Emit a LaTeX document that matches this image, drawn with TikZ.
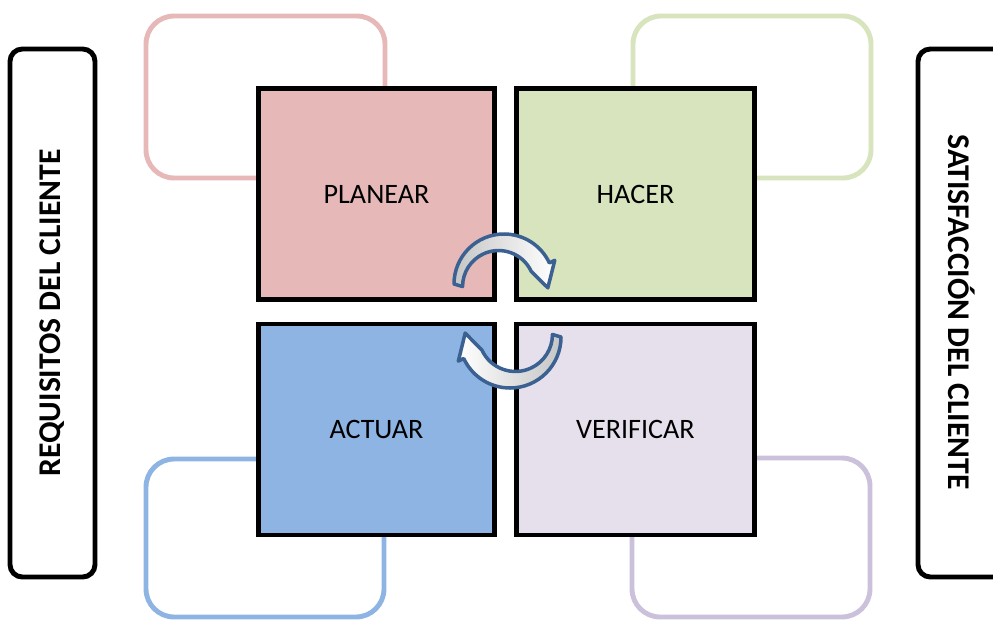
\documentclass[tikz,border=0pt]{standalone}
\usepackage{fontspec}
\setmainfont{Carlito}
\usepackage{tikz}

\definecolor{planColor}{HTML}{E6B9B8}
\definecolor{hacerColor}{HTML}{D7E4BD}
\definecolor{actuarColor}{HTML}{8EB4E3}
\definecolor{verifColor}{HTML}{E6E0EC}
\definecolor{verifLine}{HTML}{CCC1DA}
\definecolor{arrowLine}{HTML}{3B6192}

\begin{document}
\begin{tikzpicture}[
  x=0.02cm, y=-0.02cm,
  phase/.style={draw=black, line width=2.8pt, inner sep=0pt, minimum height=4.22cm,
    font=\fontsize{16}{19}\selectfont},
  ghost/.style={rounded corners=16pt, line width=2.8pt},
  sidebox/.style={draw=black, rounded corners=7pt, line width=2.8pt, inner sep=0pt},
  sidetext/.style={font=\fontsize{18}{21}\selectfont\bfseries},
  cycle/.style={draw=arrowLine, line width=2pt, line join=round}]

\useasboundingbox (0,0) rectangle (993,619);

% Light frames behind the squares
\draw[ghost, draw=planColor] (146,16) rectangle (385,178);
\draw[ghost, draw=hacerColor] (633,16) rectangle (871,178);
\draw[ghost, draw=actuarColor] (146,459) rectangle (384,617);
\draw[ghost, draw=verifLine] (632,458) rectangle (870,617);

% The four phases
\node[phase, fill=planColor, minimum width=4.72cm] (planear) at (376.5,194) {PLANEAR};
\node[phase, fill=hacerColor, minimum width=4.76cm] (hacer) at (635.5,194) {HACER};
\node[phase, fill=actuarColor, minimum width=4.72cm] (actuar) at (376.5,429.5) {ACTUAR};
\node[phase, fill=verifColor, minimum width=4.76cm] (verificar) at (635.5,429.5) {VERIFICAR};

% Customer boxes on both sides
\draw[sidebox] (10,49) rectangle (95,577);
\node[sidetext, rotate=90] (requisitos) at (52.5,313) {REQUISITOS DEL CLIENTE};
\draw[sidebox] (918,49) rectangle (1010,577);
\node[sidetext, rotate=-90] (satisfaccion) at (962,312) {SATISFACCIÓN DEL CLIENTE};

% Circular arrows
\coordinate (topturn) at (504,284);
\coordinate (bottomturn) at (510,337);
\shade[cycle, left color=gray!45, right color=white]
  ([shift={(180:50)}]topturn) arc[start angle=180, end angle=335, radius=50]
  -- ([shift={(335:56)}]topturn) -- ([shift={(5:44)}]topturn)
  -- ([shift={(335:30)}]topturn) arc[start angle=335, end angle=180, radius=36] -- cycle;
\shade[cycle, right color=gray!45, left color=white]
  ([shift={(0:51)}]bottomturn) arc[start angle=0, end angle=155, radius=51]
  -- ([shift={(155:57)}]bottomturn) -- ([shift={(185:45)}]bottomturn)
  -- ([shift={(155:31)}]bottomturn) arc[start angle=155, end angle=0, radius=37] -- cycle;

\end{tikzpicture}
\end{document}
